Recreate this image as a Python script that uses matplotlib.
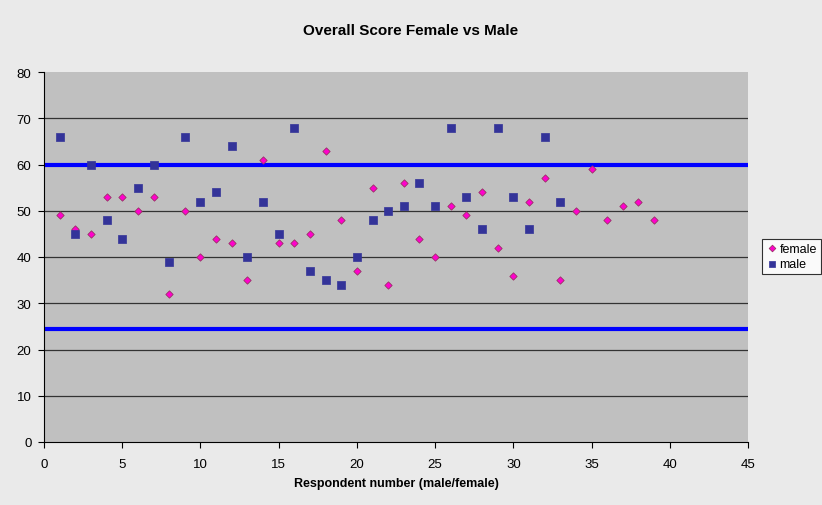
import matplotlib.pyplot as plt

# female scores by respondent number
female_x = list(range(1, 40))
female_y = [49, 46, 45, 53, 53, 50, 53, 32, 50, 40, 44, 43, 35, 61, 43, 43, 45, 63, 48, 37,
            55, 34, 56, 44, 40, 51, 49, 54, 42, 36, 52, 57, 35, 50, 59, 48, 51, 52, 48]

# male scores
male_x = list(range(1, 34))
male_y = [66, 45, 60, 48, 44, 55, 60, 39, 66, 52, 54, 64, 40, 52, 45, 68, 37, 35, 34, 40,
          48, 50, 51, 56, 51, 68, 53, 46, 68, 53, 46, 66, 52]

# reference lines
limits = [60, 24.4]

plt.rcParams['font.family'] = ['Liberation Sans', 'DejaVu Sans']

fig = plt.figure(figsize=(8.22, 5.06), dpi=100, facecolor='#eaeaea')
ax = fig.add_axes([44/822, 63/506, 704/822, 370/506])
ax.set_facecolor('#c0c0c0')

for v in range(10, 80, 10):
    ax.axhline(v, color='#333333', lw=0.9, zorder=1)
for v in limits:
    ax.axhline(v, color='#0000ff', lw=3, zorder=2)

ax.scatter(female_x, female_y, marker='D', s=14, c='#ff00cc', edgecolors='#993366',
           linewidths=0.6, zorder=3, label='female')
ax.scatter(male_x, male_y, marker='s', s=26, c='#333399', edgecolors='#333399',
           linewidths=0.5, zorder=3, label='male')

ax.set_xlim(0, 45)
ax.set_ylim(0, 80)
ax.set_xticks(range(0, 46, 5))
ax.set_yticks(range(0, 81, 10))
ax.tick_params(labelsize=9.5, length=4, direction='out', color='black')
ax.tick_params(axis='x', pad=7.5)
ax.tick_params(axis='y', pad=5)
for s in ['top', 'right']:
    ax.spines[s].set_visible(False)
for s in ['left', 'bottom']:
    ax.spines[s].set_color('black')

ax.set_xlabel('Respondent number (male/female)', fontsize=9, fontweight='bold', labelpad=5)
fig.text(0.5, 1 - 31/506, 'Overall Score Female vs Male', ha='center', va='center',
         fontsize=11, fontweight='bold')

leg = fig.legend(loc='upper left', bbox_to_anchor=(762/822, 1 - 240/506), fontsize=9,
                 frameon=True, fancybox=False, edgecolor='black', handletextpad=0.1,
                 handlelength=1, borderpad=0.3, borderaxespad=0, labelspacing=0.3,
                 markerscale=0.9)
leg.get_frame().set_linewidth(0.8)

fig.savefig('out.png', dpi=100, facecolor=fig.get_facecolor())
